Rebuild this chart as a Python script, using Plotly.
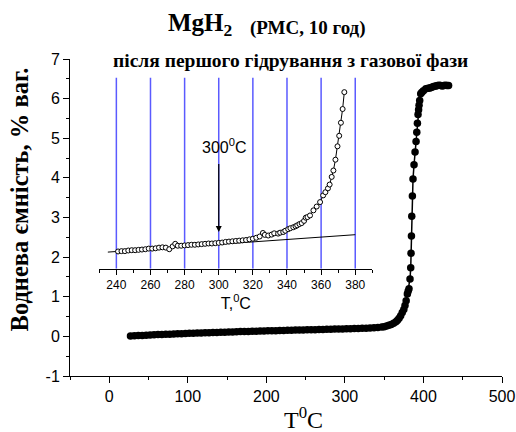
import plotly.graph_objects as go

# ---------------- main curve (T, °C ; wt.%) ----------------
main_T = [27, 32, 37, 42, 47, 52, 57, 62, 67, 72, 77, 82, 87, 92, 97, 102, 107, 112, 117, 122,
          127, 132, 137, 142, 147, 152, 157, 162, 167, 172, 177, 182, 187, 192, 197, 202, 207,
          212, 217, 222, 227, 232, 237, 242, 247, 252, 257, 262, 267, 272, 277, 282, 287, 292,
          297, 302, 307, 312, 317, 322, 327, 332, 337, 342, 347, 350, 353, 356, 359, 362, 365,
          367, 369, 371, 373, 375, 376.5, 378, 379.5, 380.5, 381.6, 382.9, 383.8, 384.2, 384.7,
          385.1, 385.9, 386.7, 388.0, 389.3, 390.6, 391.5, 392.3, 393.1, 393.8, 394.4, 395.2,
          396.5, 398, 400, 403, 406, 408, 410, 412, 414, 416, 418, 420, 422, 424, 426, 428, 430, 432]
main_H = [0.01, 0.015, 0.02, 0.025, 0.03, 0.035, 0.04, 0.045, 0.05, 0.052, 0.056, 0.06, 0.064,
          0.068, 0.072, 0.076, 0.08, 0.083, 0.086, 0.09, 0.094, 0.097, 0.10, 0.103, 0.106, 0.11,
          0.113, 0.116, 0.12, 0.125, 0.124, 0.127, 0.13, 0.133, 0.136, 0.14, 0.142, 0.145, 0.148,
          0.15, 0.153, 0.156, 0.158, 0.16, 0.163, 0.166, 0.168, 0.17, 0.173, 0.176, 0.178, 0.18,
          0.183, 0.186, 0.188, 0.19, 0.193, 0.196, 0.199, 0.202, 0.206, 0.21, 0.216, 0.224, 0.236,
          0.245, 0.26, 0.28, 0.30, 0.33, 0.37, 0.41, 0.46, 0.52, 0.60, 0.68, 0.78, 0.9, 1.07, 1.14,
          1.20, 1.45, 1.73, 2.10, 2.53, 3.03, 3.54, 3.97, 4.33, 4.65, 4.92, 5.15, 5.38, 5.60, 5.72,
          5.83, 5.95, 6.12, 6.16, 6.2, 6.25, 6.26, 6.27, 6.28, 6.3, 6.31, 6.32, 6.33, 6.34, 6.33,
          6.32, 6.33, 6.34, 6.33, 6.33]

# ---------------- inset curve ----------------
ins_T = [241, 243, 245, 247, 249, 251, 253, 255, 257, 259, 261, 263, 265, 267, 269, 271, 273,
         274.5, 276, 278, 280, 282, 284, 286, 288, 290, 292, 294, 296, 298, 300, 302, 304, 306,
         308, 310, 312, 314, 316, 318, 320, 322, 324, 325.9, 327, 329, 331, 332.5, 334.8, 336,
         337.8, 339, 340.7, 342, 343.7, 345, 346, 347.3, 348.6, 350, 351, 352, 353.5, 355.5,
         357.4, 359.4, 361.2, 362.5, 364, 365, 366.2, 367.2, 368.4, 369.6, 370.6, 371.6, 372.6, 373.6]
ins_H = [0.154, 0.155, 0.155, 0.157, 0.158, 0.158, 0.159, 0.160, 0.161, 0.163, 0.163, 0.164,
         0.166, 0.167, 0.166, 0.161, 0.170, 0.178, 0.172, 0.172, 0.173, 0.174, 0.175, 0.175,
         0.176, 0.177, 0.178, 0.179, 0.179, 0.180, 0.181, 0.182, 0.184, 0.185, 0.186, 0.187,
         0.188, 0.189, 0.190, 0.192, 0.194, 0.197, 0.201, 0.212, 0.206, 0.204, 0.207, 0.211,
         0.210, 0.213, 0.215, 0.219, 0.224, 0.227, 0.230, 0.233, 0.236, 0.240, 0.243, 0.250,
         0.260, 0.262, 0.267, 0.283, 0.295, 0.309, 0.330, 0.340, 0.352, 0.364, 0.388, 0.408,
         0.442, 0.484, 0.517, 0.558, 0.601, 0.654]

base_T = [235, 380]
base_H = [0.152, 0.2066]

grid_T = [240, 260, 280, 300, 320, 340, 360, 380]
ins_yrange = [0.1, 0.7]
arrow_T = 300
arrow_from, arrow_to = 0.433, 0.215

main_xticks = [0, 100, 200, 300, 400, 500]
main_yticks = [-1, 0, 1, 2, 3, 4, 5, 6, 7]
main_ylabels = ["-1", "0", "1", "2", "3", "4", "5", "6", "7"]
ins_xticks = [240, 260, 280, 300, 320, 340, 360, 380]

W, H = 516, 432
L, R, T, B = 70, 14, 58.5, 56.3
PW, PH = W - L - R, H - T - B


def px(x):
    return (x - L) / PW


def py(y):
    return (H - B - y) / PH


fig = go.Figure()

# blue vertical grid lines of the inset (built from grid_T)
gx, gy = [], []
for t in grid_T:
    gx += [t, t, None]
    gy += [ins_yrange[0], ins_yrange[1], None]
fig.add_trace(go.Scatter(x=gx, y=gy, mode="lines", line=dict(color="#5a5aff", width=1.5),
                         xaxis="x2", yaxis="y2", showlegend=False, hoverinfo="skip"))

fig.add_trace(go.Scatter(x=main_T, y=main_H, mode="lines+markers",
                         line=dict(color="black", width=1.5),
                         marker=dict(color="black", size=7.5),
                         xaxis="x", yaxis="y", showlegend=False))

fig.add_trace(go.Scatter(x=base_T, y=base_H, mode="lines",
                         line=dict(color="black", width=1),
                         xaxis="x2", yaxis="y2", showlegend=False))

fig.add_trace(go.Scatter(x=ins_T, y=ins_H, mode="lines+markers",
                         line=dict(color="black", width=1),
                         marker=dict(color="white", size=5, symbol="circle",
                                     line=dict(color="black", width=1)),
                         xaxis="x2", yaxis="y2", showlegend=False))

tickfont = dict(family="Arial, Liberation Sans, sans-serif", size=16, color="black")
ins_font = dict(family="Arial, Liberation Sans, sans-serif", size=12, color="black")

fig.update_layout(
    width=W, height=H, autosize=False,
    margin=dict(l=L, r=R, t=T, b=B, pad=0, autoexpand=False),
    paper_bgcolor="white", plot_bgcolor="rgba(0,0,0,0)",
    xaxis=dict(range=[-50, 500], tickvals=main_xticks, ticks="outside", ticklen=6,
               tickwidth=1, tickcolor="black", automargin=False,
               minor=dict(dtick=50, tick0=0, ticks="outside", ticklen=3, tickcolor="black"),
               showline=True, linecolor="black", linewidth=1, showgrid=False,
               zeroline=False, tickfont=tickfont),
    yaxis=dict(range=[-1, 7], tickvals=main_yticks, ticktext=main_ylabels, ticks="outside",
               ticklen=6, tickwidth=1, tickcolor="black", automargin=False,
               minor=dict(dtick=0.5, tick0=0, ticks="outside", ticklen=3, tickcolor="black"),
               showline=True, linecolor="black", linewidth=1, showgrid=False,
               zeroline=False, tickfont=tickfont),
    xaxis2=dict(domain=[px(99.3), px(372.3)], anchor="y2", range=[230, 390],
                tickvals=ins_xticks, ticks="outside", ticklen=5, tickcolor="black",
                automargin=False,
                minor=dict(dtick=10, tick0=230, ticks="outside", ticklen=3, tickcolor="black"),
                showline=True, linecolor="black", linewidth=1, showgrid=False,
                zeroline=False, tickfont=ins_font,
                title=dict(text="T,<sup>0</sup>C", standoff=2,
                           font=dict(family="Arial, Liberation Sans, sans-serif", size=16,
                                     color="black"))),
    yaxis2=dict(domain=[py(268.3), py(77)], anchor="x2", range=ins_yrange, visible=False,
                automargin=False),
)

serif = "Times New Roman, Liberation Serif, serif"
fig.add_annotation(xref="paper", yref="paper", x=px(166), y=py(24), xanchor="left",
                   yanchor="middle", showarrow=False,
                   text="<b>MgH<sub>2</sub></b>",
                   font=dict(family=serif, size=25, color="black"))
fig.add_annotation(xref="paper", yref="paper", x=px(248), y=py(27), xanchor="left",
                   yanchor="middle", showarrow=False, text="<b>(РМС, 10 год)</b>",
                   font=dict(family=serif, size=19, color="black"))
fig.add_annotation(xref="paper", yref="paper", x=px(290), y=py(60), xanchor="center",
                   yanchor="middle", showarrow=False,
                   text="<b>після першого гідрування з газової фази</b>",
                   font=dict(family=serif, size=19.5, color="black"))
fig.add_annotation(xref="paper", yref="paper", x=px(19), y=py(199), xanchor="center",
                   yanchor="middle", showarrow=False, textangle=-90,
                   text="<b>Воднева ємність, % ваг.</b>",
                   font=dict(family=serif, size=24.5, color="black"))
fig.add_annotation(xref="paper", yref="paper", x=px(303), y=py(418), xanchor="center",
                   yanchor="middle", showarrow=False, text="T<sup>0</sup>C",
                   font=dict(family=serif, size=24, color="black"))

fig.add_annotation(xref="x2", yref="y2", x=arrow_T, y=arrow_to, ax=arrow_T, ay=arrow_from,
                   axref="x2", ayref="y2", text="", showarrow=True, arrowhead=2,
                   arrowsize=1, arrowwidth=1.2, arrowcolor="black")
fig.add_annotation(xref="x2", yref="y2", x=303.6, y=0.484, showarrow=False,
                   text="300<sup>0</sup>C",
                   font=dict(family="Arial, Liberation Sans, sans-serif", size=16, color="black"))

fig.write_html("out.html", config={"responsive": False, "displayModeBar": False},
               post_script="document.body.style.margin='0';document.body.style.overflow='hidden';")
